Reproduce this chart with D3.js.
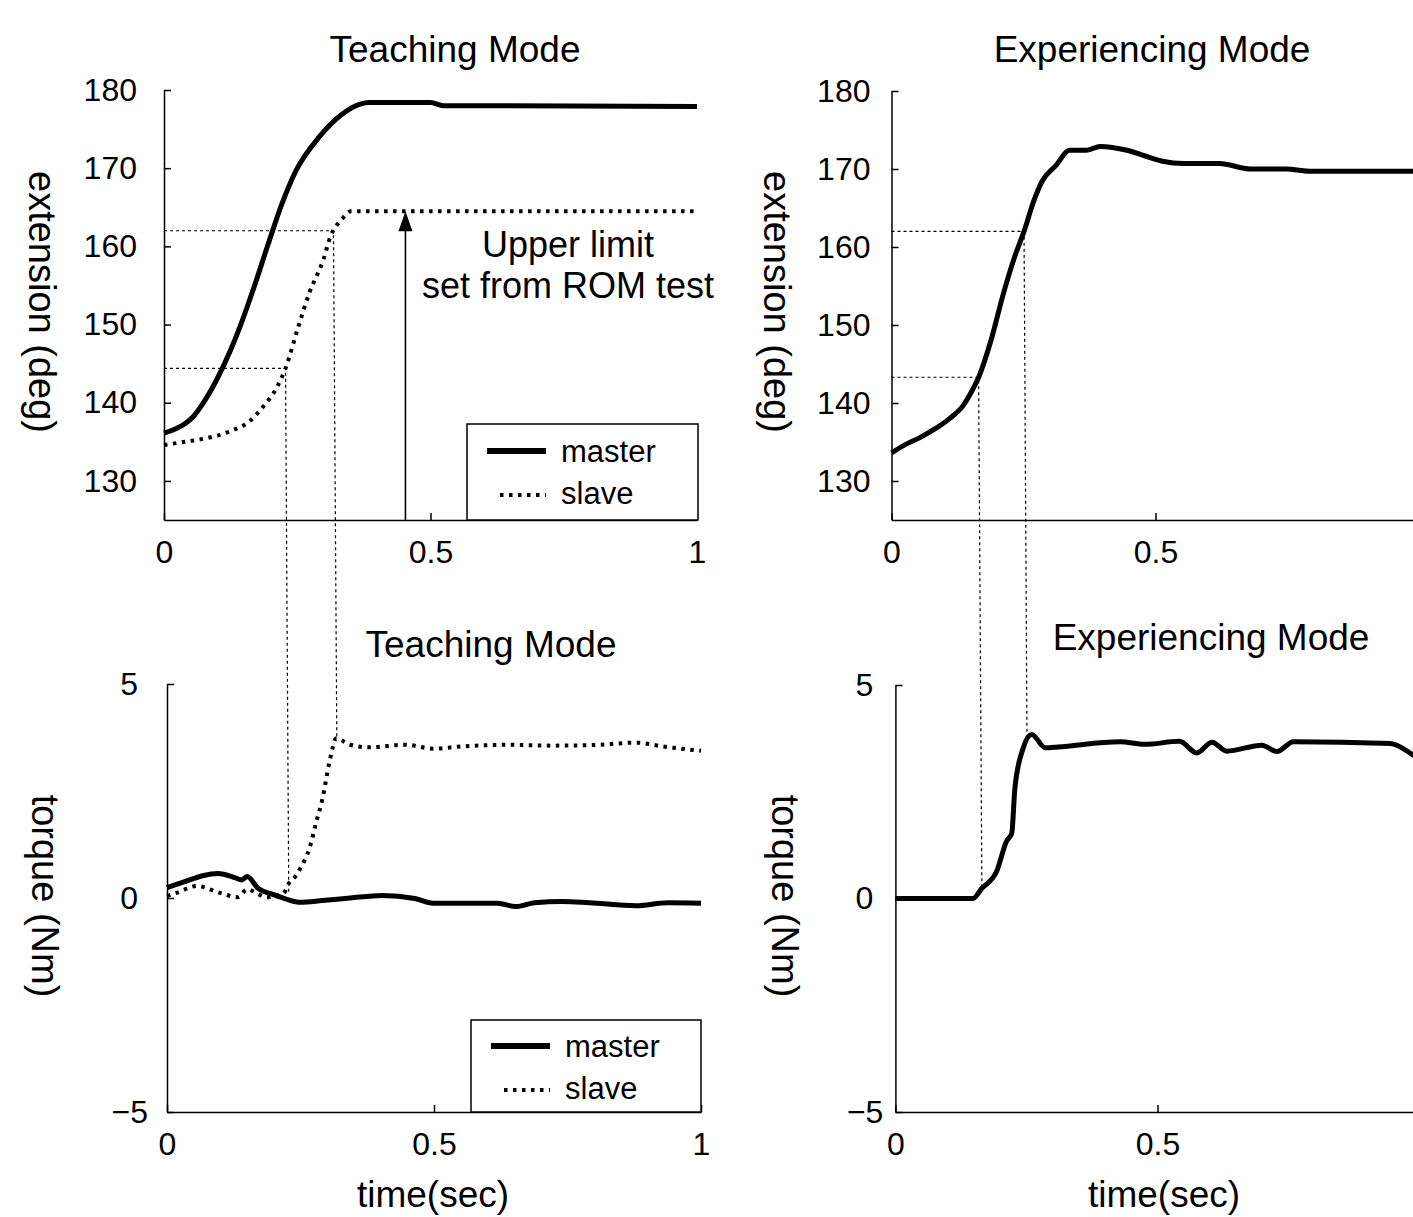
<!DOCTYPE html>
<html>
<head>
<meta charset="utf-8">
<script src="https://cdn.jsdelivr.net/npm/d3@7"></script>
<style>
  body { margin: 0; background: #fff; }
  text { font-family: "Liberation Sans", Arial, sans-serif; fill: #000; }
</style>
</head>
<body>
<div id="chart"></div>
<script>
// ---- DATA ----
// Teaching mode, extension (deg)
const teachMasterExtT = [0, 0.039, 0.056, 0.074, 0.1, 0.126, 0.143, 0.169, 0.195, 0.221, 0.247, 0.29, 0.334, 0.368, 0.385, 0.5, 0.524, 1];
const teachMasterExt  = [136.1, 137.3, 138.3, 140, 143.1, 146.9, 149.8, 154.8, 160.2, 165.4, 169.6, 173.9, 176.9, 178.2, 178.4, 178.4, 178, 177.9];
const teachSlaveExtT  = [0, 0.039, 0.082, 0.126, 0.16, 0.186, 0.212, 0.228, 0.251, 0.273, 0.299, 0.312, 0.334, 0.351, 1];
const teachSlaveExt   = [134.6, 135, 135.5, 136.4, 137.6, 139.5, 142, 144.4, 149.5, 154.1, 158.3, 161.2, 163.5, 164.5, 164.5];

// Teaching mode, torque (Nm)
const teachMasterTqT = [0, 0.033, 0.067, 0.095, 0.128, 0.14, 0.15, 0.171, 0.197, 0.222, 0.25, 0.291, 0.343, 0.403, 0.464, 0.498, 0.619, 0.653, 0.688, 0.74, 0.791, 0.878, 0.938, 1];
const teachMasterTq  = [0.24, 0.38, 0.52, 0.57, 0.47, 0.42, 0.5, 0.22, 0.09, -0.02, -0.1, -0.06, 0, 0.06, -0.01, -0.12, -0.12, -0.2, -0.11, -0.08, -0.11, -0.18, -0.11, -0.12];
const teachSlaveTqT  = [0, 0.018, 0.056, 0.099, 0.133, 0.15, 0.187, 0.218, 0.227, 0.24, 0.25, 0.267, 0.28, 0.291, 0.304, 0.317, 0.343, 0.378, 0.447, 0.498, 0.55, 0.636, 0.722, 0.809, 0.878, 0.929, 1];
const teachSlaveTq   = [0.05, 0.12, 0.28, 0.12, 0.02, 0.2, 0.02, 0.1, 0.32, 0.5, 0.7, 1.17, 1.8, 2.31, 3.16, 3.73, 3.58, 3.52, 3.58, 3.49, 3.54, 3.58, 3.56, 3.58, 3.63, 3.54, 3.44];

// Experiencing mode, extension (deg)
const expMasterExtT = [0, 0.027, 0.052, 0.085, 0.11, 0.136, 0.152, 0.165, 0.19, 0.211, 0.232, 0.251, 0.27, 0.285, 0.312, 0.337, 0.37, 0.395, 0.446, 0.479, 0.513, 0.554, 0.621, 0.68, 0.747, 0.797, 1];
const expMasterExt  = [133.6, 134.7, 135.5, 136.8, 138, 139.7, 141.5, 143.3, 148.4, 153.8, 158.5, 162, 166, 168.4, 170.5, 172.4, 172.4, 172.9, 172.4, 171.7, 171, 170.7, 170.7, 170, 170, 169.7, 169.7];

// Experiencing mode, torque (Nm)
const expMasterTqT = [0, 0.148, 0.165, 0.193, 0.212, 0.222, 0.228, 0.244, 0.26, 0.286, 0.31, 0.429, 0.475, 0.542, 0.575, 0.604, 0.632, 0.699, 0.728, 0.759, 0.944, 0.985, 1];
const expMasterTq  = [0, 0, 0.24, 0.63, 1.34, 1.53, 2.59, 3.53, 3.84, 3.53, 3.55, 3.67, 3.61, 3.68, 3.41, 3.66, 3.45, 3.59, 3.44, 3.67, 3.63, 3.38, 3.25];

// dotted guide lines: time, extension level, torque level where they end
const teachGuideT   = [0.318, 0.228];
const teachGuideExt = [162, 144.4];
const teachGuideTq  = [3.75, 0.1];
const expGuideT     = [0.251, 0.165];
const expGuideExt   = [162, 143.3];
const expGuideTq    = [3.8, 0.25];

// upper limit arrow
const arrowT = 0.453;
const upperLimit = 164.5;

// ticks (right panels are cut at the page edge, so no "1" label there)
const xTicksLeft = [0, 0.5, 1];
const xTicksRight = [0, 0.5];
const extTicks = [130, 140, 150, 160, 170, 180];
const tqTicks = [-5, 0, 5];

function zipSeries(ts, vs) {
    return ts.map((t, i) => ({ t: t, v: vs[i] }));
}

function createFigure() {

    const svg = d3.select("#chart")
        .append("svg")
        .attr("width", 1413)
        .attr("height", 1217);

    // PANEL SETUP (pixel positions of each of the four plots)
    const tl = { x: d3.scaleLinear().domain([0, 1]).range([164, 697]),
                 y: d3.scaleLinear().domain([125, 180]).range([520, 90]), ypad: 27, xt: xTicksLeft };
    const tr = { x: d3.scaleLinear().domain([0, 1]).range([891.5, 1419.5]),
                 y: d3.scaleLinear().domain([125, 180]).range([520, 91]), ypad: 21, xt: xTicksRight };
    const bl = { x: d3.scaleLinear().domain([0, 1]).range([167, 701]),
                 y: d3.scaleLinear().domain([-5, 5]).range([1112, 684]), ypad: 29, xt: xTicksLeft };
    const br = { x: d3.scaleLinear().domain([0, 1]).range([895.4, 1419.6]),
                 y: d3.scaleLinear().domain([-5, 5]).range([1112, 685]), ypad: 22, xt: xTicksRight };

    const fmt = d3.format("~g");

    function drawAxes(p, yTicks) {
        const yAxis = svg.append("g")
            .attr("transform", `translate(${p.x.range()[0]},0)`)
            .call(d3.axisLeft(p.y).tickValues(yTicks).tickSizeInner(-7).tickSizeOuter(0).tickPadding(p.ypad));
        const xAxis = svg.append("g")
            .attr("transform", `translate(0,${p.y.range()[0]})`)
            .call(d3.axisBottom(p.x).tickValues(p.xt).tickFormat(fmt).tickSizeInner(-7).tickSizeOuter(0).tickPadding(20));
        [yAxis, xAxis].forEach(g => {
            g.attr("font-size", 32).attr("font-family", "Liberation Sans, Arial, sans-serif");
            g.selectAll("path, line").attr("stroke", "#000").attr("stroke-width", 1.5);
            g.selectAll("text").attr("fill", "#000");
        });
        yAxis.selectAll("text").filter(d => d === -5).attr("dx", 10);
    }

    drawAxes(tl, extTicks);
    drawAxes(tr, extTicks);
    drawAxes(bl, tqTicks);
    drawAxes(br, tqTicks);

    // guide lines (dotted) from the extension plots down to the torque plots
    function drawGuides(top, bot, ts, exts, tqs) {
        ts.forEach((t, i) => {
            svg.append("path")
                .attr("d", `M${top.x(0)},${top.y(exts[i])}H${top.x(t)}L${bot.x(t)},${bot.y(tqs[i])}`)
                .attr("fill", "none")
                .attr("stroke", "#000")
                .attr("stroke-width", 1.2)
                .attr("stroke-dasharray", "3,3");
        });
    }
    drawGuides(tl, bl, teachGuideT, teachGuideExt, teachGuideTq);
    drawGuides(tr, br, expGuideT, expGuideExt, expGuideTq);

    // PLOT LINES
    function drawLine(p, data, dotted) {
        const line = d3.line()
            .x(d => p.x(d.t))
            .y(d => p.y(d.v))
            .curve(d3.curveMonotoneX);
        svg.append("path")
            .datum(data)
            .attr("d", line)
            .attr("fill", "none")
            .attr("stroke", "#000")
            .attr("stroke-width", dotted ? 4 : 5)
            .attr("stroke-linejoin", "round")
            .attr("stroke-dasharray", dotted ? "3.5,5.5" : null);
    }

    drawLine(tl, zipSeries(teachSlaveExtT, teachSlaveExt), true);
    drawLine(tl, zipSeries(teachMasterExtT, teachMasterExt), false);
    drawLine(bl, zipSeries(teachSlaveTqT, teachSlaveTq), true);
    drawLine(bl, zipSeries(teachMasterTqT, teachMasterTq), false);
    drawLine(tr, zipSeries(expMasterExtT, expMasterExt), false);
    drawLine(br, zipSeries(expMasterTqT, expMasterTq), false);

    // upper limit arrow
    const ax = tl.x(arrowT);
    const tipY = tl.y(upperLimit);
    svg.append("line")
        .attr("x1", ax).attr("x2", ax)
        .attr("y1", tl.y(125)).attr("y2", tipY + 14)
        .attr("stroke", "#000").attr("stroke-width", 1.6);
    svg.append("path")
        .attr("d", `M${ax},${tipY}L${ax - 7},${tipY + 20}L${ax + 7},${tipY + 20}Z`)
        .attr("fill", "#000");
    svg.append("text").attr("x", 568).attr("y", 257).attr("text-anchor", "middle")
        .attr("font-size", 36).text("Upper limit");
    svg.append("text").attr("x", 568).attr("y", 298).attr("text-anchor", "middle")
        .attr("font-size", 36).text("set from ROM test");

    // LEGENDS
    function drawLegend(x0, y0, w, h, yMaster, ySlave) {
        svg.append("rect")
            .attr("x", x0).attr("y", y0).attr("width", w).attr("height", h)
            .attr("fill", "#fff").attr("stroke", "#000").attr("stroke-width", 1.5);
        svg.append("line")
            .attr("x1", x0 + 20).attr("x2", x0 + 79).attr("y1", yMaster).attr("y2", yMaster)
            .attr("stroke", "#000").attr("stroke-width", 6);
        svg.append("line")
            .attr("x1", x0 + 33).attr("x2", x0 + 79).attr("y1", ySlave).attr("y2", ySlave)
            .attr("stroke", "#000").attr("stroke-width", 4).attr("stroke-dasharray", "3.5,5.5");
        svg.append("text").attr("x", x0 + 94).attr("y", yMaster + 11)
            .attr("font-size", 31).text("master");
        svg.append("text").attr("x", x0 + 94).attr("y", ySlave + 9)
            .attr("font-size", 31).text("slave");
    }
    drawLegend(467, 424, 231, 96, 451, 495);
    drawLegend(471, 1020, 230, 92, 1046, 1090);

    // TITLES AND AXIS LABELS
    const titles = [
        ["Teaching Mode", 455, 62],
        ["Experiencing Mode", 1152, 62],
        ["Teaching Mode", 491, 657],
        ["Experiencing Mode", 1211, 650],
        ["time(sec)", 433, 1207],
        ["time(sec)", 1164, 1207]
    ];
    titles.forEach(d => {
        svg.append("text").attr("x", d[1]).attr("y", d[2])
            .attr("text-anchor", "middle").attr("font-size", 37).text(d[0]);
    });

    const yLabels = [
        ["extension (deg)", 42, 302],
        ["extension (deg)", 777, 302],
        ["torque (Nm)", 45, 896],
        ["torque (Nm)", 785, 896]
    ];
    yLabels.forEach(d => {
        svg.append("text")
            .attr("transform", `translate(${d[1]},${d[2]}) rotate(90)`)
            .attr("text-anchor", "middle")
            .attr("dy", "0.35em")
            .attr("font-size", 38)
            .text(d[0]);
    });
}

document.addEventListener("DOMContentLoaded", createFigure);
</script>
</body>
</html>
